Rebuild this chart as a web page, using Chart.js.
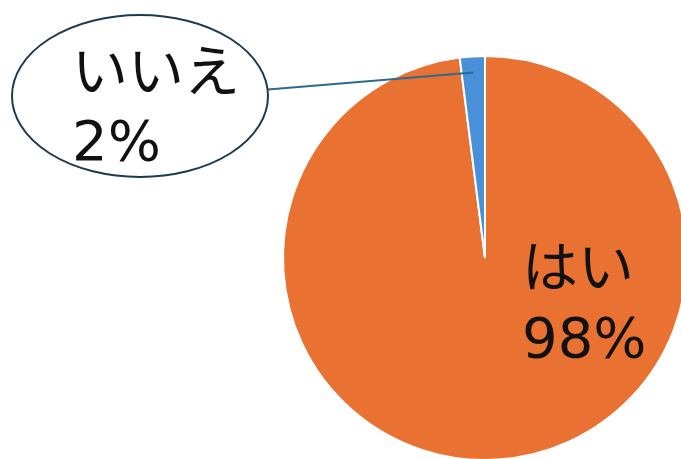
<!DOCTYPE html>
<html>
<head>
<meta charset="utf-8">
<script src="https://cdn.jsdelivr.net/npm/chart.js@4/dist/chart.umd.min.js"></script>
<style>
  html, body { margin: 0; padding: 0; background: #fff; overflow: hidden; }
  #wrap { width: 700px; height: 470px; }
</style>
</head>
<body>
<div id="wrap"><canvas id="pie" width="700" height="470"></canvas></div>
<script>
// answers and shares (%)
const labels = ['はい', 'いいえ'];
const values = [98, 2];
const colors = ['#e97132', '#4a90d9'];

const FONT = '"DejaVu Sans", "Noto Sans CJK JP", sans-serif';

// callout ellipse + in-slice label, drawn after the pie
const calloutPlugin = {
  id: 'callout',
  afterDraw(chart) {
    const ctx = chart.ctx;
    const arcs = chart.getDatasetMeta(0).data;
    const total = values.reduce((a, b) => a + b, 0);

    ctx.save();
    ctx.fillStyle = '#111';
    ctx.font = '56px ' + FONT;
    ctx.textAlign = 'left';
    ctx.textBaseline = 'alphabetic';

    // big slice label inside the pie
    const p0 = Math.round(values[0] / total * 100) + '%';
    ctx.fillText(labels[0], 522, 287);
    ctx.fillText(p0, 522, 357);

    // small slice: leader line from the slice to an ellipse
    const a = arcs[1];
    const mid = (a.startAngle + a.endAngle) / 2;
    const r = a.outerRadius * 0.92;
    const ex = a.x + Math.cos(mid) * r;
    const ey = a.y + Math.sin(mid) * r;
    ctx.strokeStyle = '#2b6b8f';
    ctx.lineWidth = 2;
    ctx.beginPath();
    ctx.moveTo(262, 90);
    ctx.lineTo(ex, ey);
    ctx.stroke();

    ctx.fillStyle = '#fff';
    ctx.strokeStyle = '#1e3a50';
    ctx.lineWidth = 2;
    ctx.beginPath();
    ctx.ellipse(140, 96, 128, 81, 0, 0, Math.PI * 2);
    ctx.fill();
    ctx.stroke();

    ctx.fillStyle = '#111';
    const p1 = Math.round(values[1] / total * 100) + '%';
    ctx.fillText(labels[1], 72, 91);
    ctx.fillText(p1, 72, 160);
    ctx.restore();
  }
};

new Chart(document.getElementById('pie'), {
  type: 'pie',
  data: {
    labels: labels,
    datasets: [{
      data: values,
      backgroundColor: colors,
      borderColor: '#ffffff',
      borderWidth: 2
    }]
  },
  options: {
    responsive: false,
    animation: false,
    layout: { padding: { left: 282, right: 12, top: 55, bottom: 9 } },
    plugins: {
      legend: { display: false },
      tooltip: { enabled: false }
    }
  },
  plugins: [calloutPlugin]
});
</script>
</body>
</html>
